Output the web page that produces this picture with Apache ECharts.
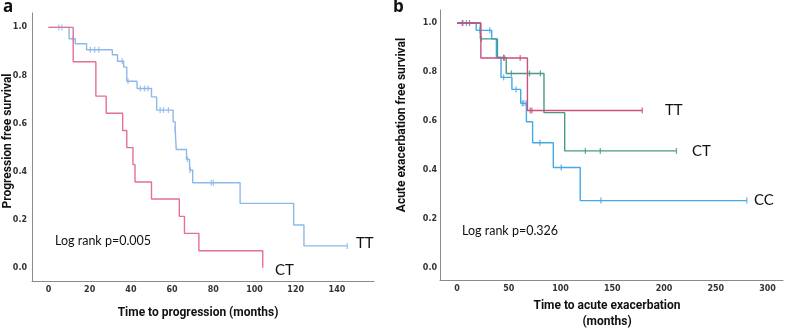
<!DOCTYPE html>
<html>
<head>
<meta charset="utf-8">
<script src="https://cdn.jsdelivr.net/npm/echarts@6/dist/echarts.min.js"></script>
<style>
  html, body { margin: 0; padding: 0; background: #fff; }
  #main { width: 787px; height: 328px; }
</style>
</head>
<body>
<div id="main"></div>
<script>
// panel a: progression free survival
const aCtTimes = [0, 12, 23, 28, 36, 38, 41, 42, 50, 63.5, 66, 73, 104];
const aCtSurv  = [1, 0.857, 0.714, 0.643, 0.571, 0.5, 0.429, 0.357, 0.286, 0.214, 0.143, 0.071, 0];
const aTtTimes = [0, 10, 13, 18.5, 31, 33.5, 36.5, 38, 43, 50, 52.5, 60.5, 61.5, 62, 67, 68.5, 70, 93, 119, 124, 145];
const aTtSurv  = [1, 0.953, 0.932, 0.907, 0.886, 0.859, 0.835, 0.776, 0.746, 0.711, 0.656, 0.607, 0.575, 0.492, 0.451, 0.407, 0.354, 0.268, 0.178, 0.091, 0.091];
const aTtCensor = [5, 6.5, 12, 20.3, 22.4, 24.4, 35.8, 38.6, 44.6, 46.6, 48.3, 54.2, 55.8, 58.2, 61.5, 67.5, 68.8, 79, 80, 145];
const aXTicks = [0, 20, 40, 60, 80, 100, 120, 140];

// panel b: acute exacerbation free survival
const bTtTimes = [0, 23, 68, 179];
const bTtSurv  = [1, 0.857, 0.643, 0.643];
const bTtCensor = [5.5, 12, 45.5, 61, 70.7, 72.3, 179];
const bCtTimes = [0, 22.5, 39, 47.5, 84, 104, 212];
const bCtSurv  = [1, 0.935, 0.859, 0.794, 0.634, 0.478, 0.478];
const bCtCensor = [23.5, 45, 52.5, 70, 80.5, 124, 138.4, 212];
const bCcTimes = [0, 18.5, 33.5, 38, 42.5, 53, 61.5, 67, 73, 93, 119, 280];
const bCcSurv  = [1, 0.97, 0.935, 0.859, 0.778, 0.729, 0.672, 0.597, 0.511, 0.41, 0.275, 0.275];
const bCcCensor = [5, 9, 22, 31.6, 45, 57, 63, 64.5, 66.8, 80, 100.7, 139, 280];
const bXTicks = [0, 50, 100, 150, 200, 250, 300];

const yTicks = [0, 0.2, 0.4, 0.6, 0.8, 1.0];

function pairs(times, surv) {
  return times.map((t, i) => [t, surv[i]]);
}
// survival value at a censor time
function censorPts(censor, times, surv) {
  return censor.map(c => {
    let s = surv[0];
    for (let i = 0; i < times.length; i++) if (times[i] <= c) s = surv[i];
    return [c, s];
  });
}

const tickLabel = { fontSize: 8, fontWeight: 'bold', color: '#333', fontFamily: 'DejaVu Sans' };
const axisLine = { show: true, lineStyle: { color: '#8a8a8a', width: 1 } };

function xAxis(idx, min, max, ticks) {
  return {
    type: 'value', gridIndex: idx, min: min, max: max,
    splitLine: { show: false }, axisTick: { show: false },
    axisLine: Object.assign({ onZero: false }, axisLine),
    axisLabel: Object.assign({ margin: 5, customValues: ticks, showMinLabel: true, showMaxLabel: true }, tickLabel)
  };
}
function yAxis(idx, min, max, margin) {
  return {
    type: 'value', gridIndex: idx, min: min, max: max,
    splitLine: { show: false }, axisTick: { show: false },
    axisLine: Object.assign({ onZero: false }, axisLine),
    axisLabel: Object.assign({ margin: margin, customValues: yTicks, formatter: v => v.toFixed(1) }, tickLabel)
  };
}
function km(idx, name, times, surv, color) {
  return {
    type: 'line', name: name, xAxisIndex: idx, yAxisIndex: idx, step: 'end',
    data: pairs(times, surv), showSymbol: false, silent: true,
    lineStyle: { color: color, width: 1.4 }, animation: false
  };
}
function marks(idx, censor, times, surv, color) {
  return {
    type: 'scatter', xAxisIndex: idx, yAxisIndex: idx,
    data: censorPts(censor, times, surv), symbol: 'rect', symbolSize: [1.3, 6],
    itemStyle: { color: color }, silent: true, animation: false
  };
}

const pinkA = '#e5708f', blueA = '#8db9ea';
const pinkB = '#c9507f', tealB = '#4a9789', blueB = '#45a9e6';

const titleFont = { fontFamily: 'Roboto', fontWeight: 'bold', fontSize: 12, fill: '#111' };
const noteFont = { fontFamily: 'Lato', fontSize: 12.5, fill: '#111' };
const grpFont = { fontFamily: 'Lato', fontSize: 15, fill: '#111', verticalAlign: 'middle' };

const chart = echarts.init(document.getElementById('main'), null, { renderer: 'canvas' });
chart.setOption({
  animation: false,
  grid: [
    { left: 32, top: 13, width: 342, height: 268 },
    { left: 440, top: 10, width: 343, height: 270 }
  ],
  xAxis: [xAxis(0, -8, 158, aXTicks), xAxis(1, -16.5, 315, bXTicks)],
  yAxis: [yAxis(0, -0.055, 1.06, 5), yAxis(1, -0.049, 1.053, 3)],
  series: [
    km(0, 'TT', aTtTimes, aTtSurv, blueA),
    marks(0, aTtCensor, aTtTimes, aTtSurv, blueA),
    km(0, 'CT', aCtTimes, aCtSurv, pinkA),
    km(1, 'CC', bCcTimes, bCcSurv, blueB),
    marks(1, bCcCensor, bCcTimes, bCcSurv, blueB),
    km(1, 'CT', bCtTimes, bCtSurv, tealB),
    marks(1, bCtCensor, bCtTimes, bCtSurv, tealB),
    km(1, 'TT', bTtTimes, bTtSurv, pinkB),
    marks(1, bTtCensor, bTtTimes, bTtSurv, pinkB)
  ],
  graphic: [
    { type: 'text', left: 3, top: -1, style: { text: 'a', font: 'bold 17px "Open Sans"', fill: '#111' } },
    { type: 'text', left: 393, top: -1, style: { text: 'b', font: 'bold 17px "Open Sans"', fill: '#111' } },
    { type: 'text', x: 8, y: 141, rotation: Math.PI / 2,
      style: Object.assign({ text: 'Progression free survival', align: 'center', verticalAlign: 'middle' }, titleFont) },
    { type: 'text', x: 402, y: 125, rotation: Math.PI / 2,
      style: Object.assign({ text: 'Acute exacerbation free survival', align: 'center', verticalAlign: 'middle' }, titleFont) },
    { type: 'text', x: 198, y: 313,
      style: Object.assign({ text: 'Time to progression (months)', align: 'center', verticalAlign: 'middle' }, titleFont) },
    { type: 'text', x: 607, y: 314,
      style: Object.assign({ text: 'Time to acute exacerbation\n(months)', align: 'center', verticalAlign: 'middle', lineHeight: 16 }, titleFont) },
    { type: 'text', x: 55, y: 241,
      style: Object.assign({ text: 'Log rank p=0.005', verticalAlign: 'middle' }, noteFont) },
    { type: 'text', x: 462, y: 231,
      style: Object.assign({ text: 'Log rank p=0.326', verticalAlign: 'middle' }, noteFont) },
    { type: 'text', x: 356, y: 243, style: Object.assign({ text: 'TT' }, grpFont) },
    { type: 'text', x: 275, y: 270, style: Object.assign({ text: 'CT' }, grpFont) },
    { type: 'text', x: 665, y: 110, style: Object.assign({ text: 'TT' }, grpFont) },
    { type: 'text', x: 692, y: 151, style: Object.assign({ text: 'CT' }, grpFont) },
    { type: 'text', x: 754, y: 200, style: Object.assign({ text: 'CC' }, grpFont) }
  ]
});
</script>
</body>
</html>
